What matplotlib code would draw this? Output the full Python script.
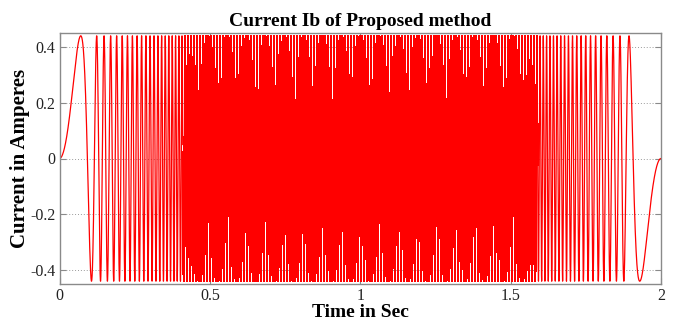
import numpy as np
import matplotlib
matplotlib.use("Agg")
import matplotlib.pyplot as plt

# Instantaneous frequency of the phase current over the run (accelerate, hold, decelerate)
freq_time = [0.0, 0.07, 0.10, 0.13, 0.20, 0.46, 1.54, 1.80, 1.87, 1.90, 1.93, 2.0]
freq_hz = [0.0, 7.0, 18.0, 40.0, 54.0, 105.5, 105.5, 54.0, 40.0, 18.0, 7.0, 0.0]
peak_current = 0.44  # A

x_ticks = [0, 0.5, 1, 1.5, 2]
x_tick_labels = ["0", "0.5", "1", "1.5", "2"]
y_ticks = [-0.4, -0.2, 0, 0.2, 0.4]
y_tick_labels = ["-0.4", "-0.2", "0", "0.2", "0.4"]

# Simulated current waveform
dt = 1e-4
t = np.arange(0.0, 2.0 + dt / 2, dt)
f_inst = np.interp(t, freq_time, freq_hz)
cycles = np.concatenate([[0.0], np.cumsum(0.5 * (f_inst[1:] + f_inst[:-1]) * dt)])
cycles *= np.round(cycles[-1]) / cycles[-1]
ib = peak_current * np.sin(2 * np.pi * cycles)

fig = plt.figure(figsize=(6.74, 3.2), dpi=100)
ax = fig.add_axes([59.5 / 674, 36 / 320, (661 - 59.5) / 674, (284 - 33) / 320])

# Slow start/stop portions drawn smooth, the dense high-frequency run drawn solid
t_split = (0.41, 1.59)
head = t <= t_split[0]
tail = t >= t_split[1]
body = (t >= t_split[0]) & (t <= t_split[1])
for m in (head, tail):
    ax.plot(t[m], ib[m], color="#ff0000", linewidth=0.9, antialiased=True)
ax.plot(t[body], ib[body], color="#ff0000", linewidth=0.72, antialiased=False)

ax.set_xlim(0, 2)
ax.set_ylim(-0.45, 0.45)
ax.set_xticks(x_ticks)
ax.set_xticklabels(x_tick_labels)
ax.set_yticks(y_ticks)
ax.set_yticklabels(y_tick_labels)

for lab in ax.get_xticklabels() + ax.get_yticklabels():
    lab.set_fontfamily("Liberation Serif")
    lab.set_fontsize(11.5)

ax.grid(True, linestyle=(0, (1, 2)), color="#9a9a9a", linewidth=0.7)
ax.set_axisbelow(True)
for side in ax.spines.values():
    side.set_color("#8a8a8a")
    side.set_linewidth(1.0)
ax.tick_params(direction="in", length=4, color="#8a8a8a", top=True, right=True,
               pad=3, labelcolor="#222222")

label_font = dict(family="Liberation Serif", weight="bold", size=14)
ax.set_title("Current Ib of Proposed method", pad=5, **label_font)
ax.set_xlabel("Time in Sec", labelpad=0, **label_font)
ax.set_ylabel("Current in Amperes", labelpad=0, family="Liberation Serif",
              weight="bold", size=15)

fig.savefig("out.png", dpi=100)
